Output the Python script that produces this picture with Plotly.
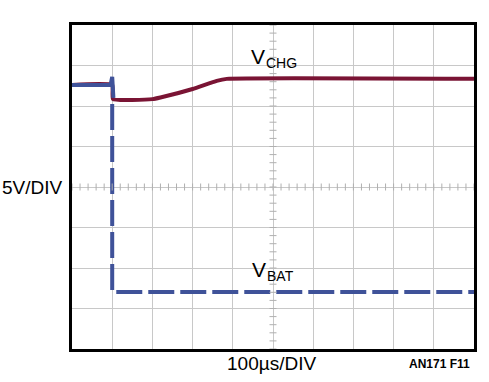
import plotly.graph_objects as go

# Data in divisions (x: 0..10, y: 0..8)
chg_x = [0.0, 1.0, 1.02, 2.0, 2.2, 3.0, 3.6, 3.85, 10.0]
chg_y = [6.52, 6.52, 6.17, 6.17, 6.21, 6.42, 6.62, 6.67, 6.67]

bat_solid_x = [0.0, 0.96, 1.0, 1.03]
bat_solid_y = [6.52, 6.52, 6.72, 6.2]
bat_dash_x = [1.0, 1.0, 10.0]
bat_dash_y = [6.05, 1.41, 1.41]

RED = "#7a1434"
BLUE = "#3f5299"
NARROW = "Liberation Sans Narrow, Arial Narrow, sans-serif"
FONT = "Liberation Sans, Arial, sans-serif"

fig = go.Figure()
fig.add_trace(go.Scatter(x=chg_x, y=chg_y, mode="lines",
                         line=dict(color=RED, width=4, shape="spline", smoothing=0.4),
                         hoverinfo="skip"))
fig.add_trace(go.Scatter(x=bat_solid_x, y=bat_solid_y, mode="lines",
                         line=dict(color=BLUE, width=4), hoverinfo="skip"))
fig.add_trace(go.Scatter(x=bat_dash_x, y=bat_dash_y, mode="lines",
                         line=dict(color=BLUE, width=4, dash="26px,6px"), hoverinfo="skip"))

# center minor ticks
mt = [i * 0.2 for i in range(51)]
fig.add_trace(go.Scatter(x=mt, y=[4] * len(mt), mode="markers",
                         marker=dict(symbol="line-ns", size=5, line=dict(color="#b0b0b0", width=1)),
                         hoverinfo="skip"))
mty = [i * 0.2 for i in range(41)]
fig.add_trace(go.Scatter(x=[5] * len(mty), y=mty, mode="markers",
                         marker=dict(symbol="line-ew", size=5, line=dict(color="#b0b0b0", width=1)),
                         hoverinfo="skip"))

fig.update_layout(
    width=489, height=382,
    margin=dict(l=72, r=12, t=25, b=33),
    paper_bgcolor="white", plot_bgcolor="white",
    showlegend=False,
    font=dict(family=FONT, color="black"),
    xaxis=dict(range=[0, 10], dtick=1, showgrid=True, gridcolor="#c8c8c8", gridwidth=1,
               showticklabels=False, zeroline=False, showline=True, linecolor="black",
               linewidth=3, mirror=True, ticks=""),
    yaxis=dict(range=[0, 8], dtick=1, showgrid=True, gridcolor="#c8c8c8", gridwidth=1,
               showticklabels=False, zeroline=False, showline=True, linecolor="black",
               linewidth=3, mirror=True, ticks=""),
)

# series labels: main letter + subscript as separate texts
fig.add_annotation(x=4.63, y=7.22, xref="x", yref="y", text="V", showarrow=False,
                   font=dict(size=21, family=NARROW))
fig.add_annotation(x=4.77, y=7.07, xref="x", yref="y", xanchor="left", text="CHG",
                   showarrow=False, font=dict(size=14, family=FONT))
fig.add_annotation(x=4.65, y=1.96, xref="x", yref="y", text="V", showarrow=False,
                   font=dict(size=21, family=NARROW))
fig.add_annotation(x=4.79, y=1.80, xref="x", yref="y", xanchor="left", text="BAT",
                   showarrow=False, font=dict(size=14, family=FONT))

fig.add_annotation(x=0, y=0.5, xref="paper", yref="paper", xanchor="right", xshift=-7,
                   text="5V/DIV", showarrow=False, font=dict(size=19, family=FONT))
fig.add_annotation(x=0.5, y=0, xref="paper", yref="paper", yanchor="top", yshift=-2,
                   xshift=-2, text="100µs/DIV", showarrow=False, font=dict(size=19, family=FONT))
fig.add_annotation(x=1, y=0, xref="paper", yref="paper", xanchor="right", yanchor="top",
                   yshift=-6, xshift=-2, text="<b>AN171 F11</b>", showarrow=False,
                   font=dict(size=12, family=NARROW))

fig.write_html("out.html", config={"displayModeBar": False},
               post_script="document.body.style.margin='0';")
